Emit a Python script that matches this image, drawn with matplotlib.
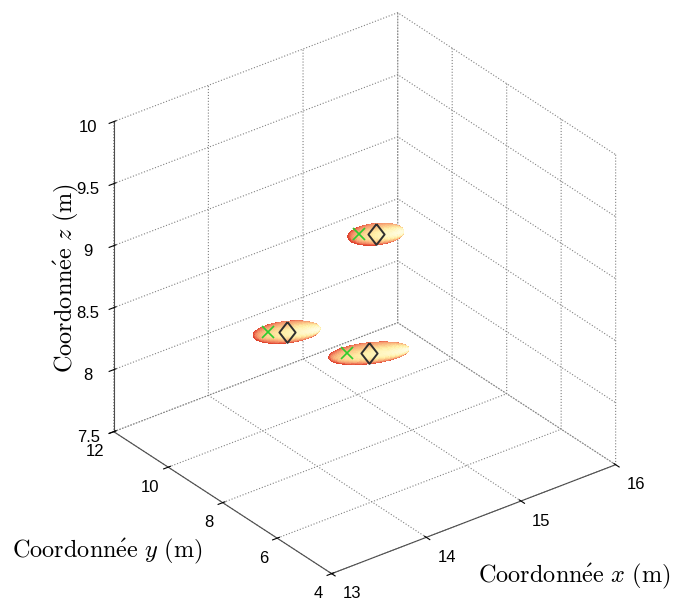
import numpy as np
import matplotlib
matplotlib.use("Agg")
import matplotlib.pyplot as plt
from matplotlib.colors import LinearSegmentedColormap
from mpl_toolkits.mplot3d import proj3d

plt.rcParams['font.family'] = ['Liberation Sans', 'DejaVu Sans']
plt.rcParams['mathtext.fontset'] = 'cm'
plt.rcParams['grid.linestyle'] = ':'
plt.rcParams['grid.color'] = '0.5'
plt.rcParams['grid.linewidth'] = 0.8

# axes
x_lim = (13, 16)
y_lim = (4, 12)
z_lim = (7.5, 10)
x_ticks = [13, 14, 15, 16]
y_ticks = [4, 6, 8, 10, 12]
z_ticks = [7.5, 8, 8.5, 9, 9.5, 10]

# true positions (diamonds), also the ellipsoid centres
true_x = [14.86, 14.28, 14.80]
true_y = [8.84, 10.10, 8.89]
true_z = [9.00, 8.20, 8.05]

# estimated positions (crosses)
est_x = [14.75, 14.16, 14.66]
est_y = [9.07, 10.36, 9.19]
est_z = [9.00, 8.20, 8.05]

# ellipsoid semi-axes in box units (long, across, vertical) and yaw in degrees
ell_long = [0.080, 0.096, 0.115]
ell_across = [0.035, 0.035, 0.035]
ell_vert = [0.028, 0.028, 0.027]
ell_yaw = [-24.4, -24.4, -24.4]

W, H = 676, 607
fig = plt.figure(figsize=(W / 100, H / 100), dpi=100)
ax = fig.add_axes([0.1, 0.1, 0.8, 0.8], projection='3d', proj_type='ortho',
                  computed_zorder=False)
ax.view_init(elev=30, azim=-127.5)
ax.set_box_aspect((1, 1, 1))
ax.set_xlim(*x_lim)
ax.set_ylim(*y_lim)
ax.set_zlim(*z_lim)
ax.set_xticks(x_ticks)
ax.set_yticks(y_ticks)
ax.set_zticks(z_ticks)
ax.set_xticklabels([])
ax.set_yticklabels([])
ax.set_zticklabels([f"{t:g}" for t in z_ticks])

for axis in (ax.xaxis, ax.yaxis, ax.zaxis):
    axis.set_pane_color((1, 1, 1, 0))
    axis.pane.set_edgecolor((1, 1, 1, 0))
    axis.line.set_color('0.3')
    axis.line.set_linewidth(0.8)
ax.tick_params(labelsize=12, colors='black', width=0.6)

# ellipsoids
span = np.array([x_lim[1] - x_lim[0], y_lim[1] - y_lim[0], z_lim[1] - z_lim[0]])
cmap = LinearSegmentedColormap.from_list(
    'ell', ['#e0452f', '#ec6f52', '#f59a6e', '#fbc586', '#fff0a8', '#fffde2'])
az = np.radians(-127.5)
el = np.radians(30)
view = np.array([np.cos(el) * np.cos(az), np.cos(el) * np.sin(az), np.sin(el)])
right = np.array([-np.sin(az), np.cos(az), 0.0])
light = view + 0.9 * right + np.array([0, 0, 0.3])
light /= np.linalg.norm(light)

u = np.linspace(0, 2 * np.pi, 56)
v = np.linspace(0, np.pi, 28)
sx = np.outer(np.cos(u), np.sin(v))
sy = np.outer(np.sin(u), np.sin(v))
sz = np.outer(np.ones_like(u), np.cos(v))

for i in range(len(true_x)):
    phi = np.radians(ell_yaw[i])
    d = np.array([np.cos(phi), np.sin(phi), 0.0])
    e = np.array([-np.sin(phi), np.cos(phi), 0.0])
    k = np.array([0.0, 0.0, 1.0])
    a, b, c = ell_long[i], ell_across[i], ell_vert[i]
    centre = np.array([true_x[i], true_y[i], true_z[i]])
    pts = [centre[j] + span[j] * (a * sx * d[j] + b * sy * e[j] + c * sz * k[j])
           for j in range(3)]
    nrm = [sx / a * d[j] + sy / b * e[j] + sz / c * k[j] for j in range(3)]
    nlen = np.sqrt(nrm[0] ** 2 + nrm[1] ** 2 + nrm[2] ** 2)
    inten = (nrm[0] * light[0] + nrm[1] * light[1] + nrm[2] * light[2]) / nlen
    inten = np.clip(inten, 0, 1) ** 1.3
    ax.plot_surface(pts[0], pts[1], pts[2], facecolors=cmap(inten),
                    rstride=1, cstride=1, linewidth=0, antialiased=False,
                    shade=False, zorder=2)

ax.plot(est_x, est_y, est_z, linestyle='none', marker='x', color='#2ecc2e',
        markersize=8, markeredgewidth=1.2, zorder=5)
diamond = [(0, 1), (0.78, 0), (0, -1), (-0.78, 0), (0, 1)]
ax.plot(true_x, true_y, true_z, linestyle='none', marker=diamond,
        markerfacecolor='none', markeredgecolor='#303030', markersize=15,
        markeredgewidth=1.4, zorder=6)

# fit the projected box onto the reference layout
fig.canvas.draw()
corners = np.array([[13, 4, 7.5], [16, 4, 7.5], [13, 12, 10]], float)
target = np.array([[333, 575], [615, 463], [113, 122]], float)
target[:, 1] = H - target[:, 1]
M = ax.get_proj()
px, py, _ = proj3d.proj_transform(corners[:, 0], corners[:, 1], corners[:, 2], M)
cur = ax.transData.transform(np.column_stack([px, py]))
tm, cm = target.mean(axis=0), cur.mean(axis=0)
s = np.sqrt(((target - tm) ** 2).sum() / ((cur - cm) ** 2).sum())
bb = ax.bbox
ctr = np.array([(bb.x0 + bb.x1) / 2, (bb.y0 + bb.y1) / 2])
new_ctr = tm - s * (cm - ctr)
size = s * bb.width
ax.set_position([(new_ctr[0] - size / 2) / W, (new_ctr[1] - size / 2) / H,
                 size / W, size / H])


def to_pixel(x, y, z):
    qx, qy, _ = proj3d.proj_transform(np.atleast_1d(x), np.atleast_1d(y),
                                      np.atleast_1d(z), M)
    return ax.transData.transform(np.column_stack([qx, qy]))[0]


# x and y tick labels placed like MATLAB does
for t in x_ticks:
    p = to_pixel(t, y_lim[0], z_lim[0])
    fig.text((p[0] + 11) / W, (p[1] - 20) / H, str(t), fontsize=12,
             ha='left', va='center')
for t in y_ticks:
    p = to_pixel(x_lim[0], t, z_lim[0])
    fig.text((p[0] - 9) / W, (p[1] - 20) / H, str(t), fontsize=12,
             ha='right', va='center')

lab = dict(fontsize=17.5, color='black')
fig.text(478 / W, 1 - 576 / H, r'$\mathrm{Coordonn\acute{e}e}\ x\ \mathrm{(m)}$',
         ha='left', va='center', **lab)
fig.text(12 / W, 1 - 551 / H, r'$\mathrm{Coordonn\acute{e}e}\ y\ \mathrm{(m)}$',
         ha='left', va='center', **lab)
fig.text(66 / W, 1 - 278 / H, r'$\mathrm{Coordonn\acute{e}e}\ z\ \mathrm{(m)}$',
         ha='center', va='center', rotation=90, **lab)

fig.savefig('out.png', dpi=100)
